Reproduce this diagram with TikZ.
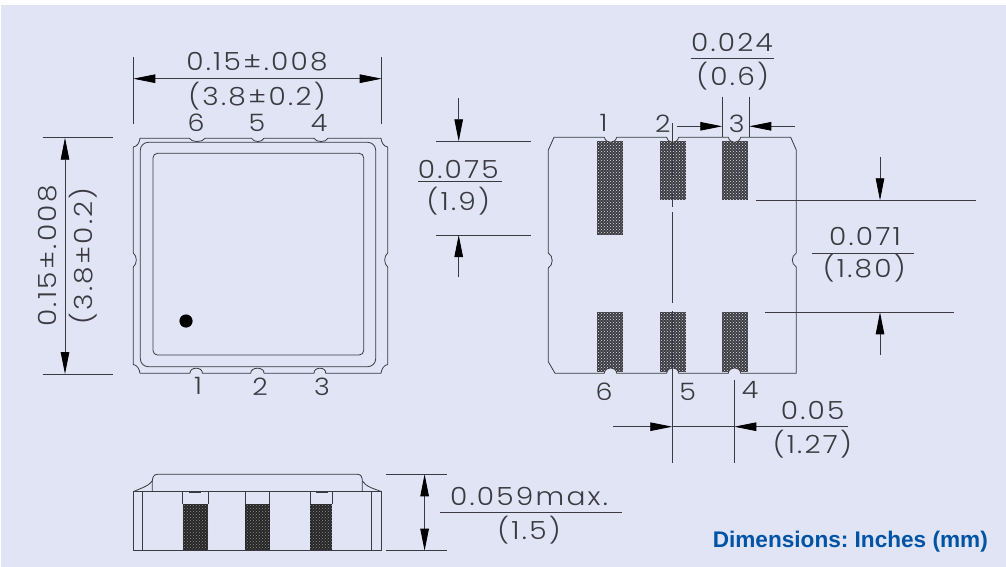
\documentclass[tikz,border=0pt]{standalone}
\usepackage{fontspec}
\usetikzlibrary{arrows.meta,patterns}
\setmainfont{Liberation Sans}
\newfontfamily\cadfont[LetterSpace=9,FakeStretch=1.12]{Poppins Light}
\definecolor{bgc}{RGB}{224,228,244}
\definecolor{inkc}{RGB}{58,58,64}
\definecolor{bluec}{RGB}{0,84,166}
\definecolor{padc}{RGB}{60,60,64}
\tikzset{
  dimtxt/.style={font=\cadfont\fontsize{25}{25}\selectfont,text=inkc,inner sep=0pt,anchor=center},
  pintxt/.style={font=\cadfont\fontsize{24}{24}\selectfont,text=inkc,inner sep=0pt,anchor=center},
  part/.style={draw=inkc,line width=0.8pt,line join=round},
  thin line/.style={draw=inkc,line width=0.8pt},
  dimarrow/.style={draw=inkc,line width=0.8pt,-{Triangle[length=22pt,width=8.5pt,color=black]}},
  padbox/.style={fill=padc,postaction={pattern=crosshatch dots,pattern color=bgc}},
  sidepad/.style={fill=black!85,postaction={pattern=crosshatch dots,pattern color=black!45}},
}
\begin{document}
\begin{tikzpicture}[x=1pt,y=-1pt]
\useasboundingbox (0,0) rectangle (1006,567);
\fill[white] (0,0) rectangle (1006,567);
\fill[bgc] (1,5) rectangle (1006,567);

% ---------- top view
\draw[part] (140,138.3)
  -- (189.3,138.3) .. controls (191.5,142.6) and (202.8,142.6) .. (205,138.3)
  -- (251.7,138.3) .. controls (253.5,142.6) and (262.2,142.6) .. (264,138.3)
  -- (314,138.3) .. controls (316,142.6) and (326,142.6) .. (328,138.3)
  -- (381,138.3) .. controls (381.5,143) and (384,146.5) .. (387.7,147)
  -- (387.7,253) .. controls (383.7,256) and (383.7,264) .. (387.7,267)
  -- (387.7,364.5) .. controls (384,365) and (381.5,369) .. (381,373.3)
  -- (325.7,373.3) .. controls (326.5,366.5) and (313.5,366.5) .. (314,373.3)
  -- (264,373.3) .. controls (264.5,366.5) and (250.5,366.5) .. (250.7,373.3)
  -- (202.3,373.3) .. controls (203,366.5) and (189.5,366.5) .. (190,373.3)
  -- (140,373.3) .. controls (139.5,369) and (137,365) .. (133.3,364.5)
  -- (133.3,267) .. controls (137.3,264) and (137.3,256) .. (133.3,253)
  -- (133.3,147) .. controls (137,146.5) and (139.5,143) .. (140,138.3) -- cycle;
\draw[part,rounded corners=8pt] (140.3,142.3) rectangle (375.7,366.7);
\draw[part,rounded corners=4.5pt] (153,153.3) rectangle (363.7,355);
\fill[black] (186,321) circle (6.6);

\node[pintxt] (p6a) at (196,123) {6};
\node[pintxt] (p5a) at (257,123) {5};
\node[pintxt] (p4a) at (319,123) {4};
\node[pintxt] (p1a) at (198,386) {1};
\node[pintxt] (p2a) at (260,387) {2};
\node[pintxt] (p3a) at (322,387) {3};

% width dimension
\draw[thin line] (133.3,57) -- (133.3,124);
\draw[thin line] (381.7,57) -- (381.7,124);
\draw[dimarrow] (257,78.7) -- (133.3,78.7);
\draw[dimarrow] (257,78.7) -- (381.7,78.7);
\node[dimtxt] (wa) at (257,62) {0.15±.008};
\node[dimtxt] (wb) at (257,96) {(3.8±0.2)};

% height dimension
\draw[thin line] (42.7,137.7) -- (113,137.7);
\draw[thin line] (42.7,374) -- (113,374);
\draw[dimarrow] (65,256) -- (65,137.7);
\draw[dimarrow] (65,256) -- (65,374);
\node[dimtxt,rotate=90] (ha) at (48,256) {0.15±.008};
\node[dimtxt,rotate=90] (hb) at (83,256) {(3.8±0.2)};

% ---------- bottom view
\foreach \xa/\xb in {597.3/622.7,660.3/686,722/747.7}{
  \path[padbox] (\xa,312.3) rectangle (\xb,371.7);
}
\foreach \xa/\xb in {660.3/686,722/747.7}{
  \path[padbox] (\xa,141) rectangle (\xb,200.3);
}
\path[padbox] (597.3,141) rectangle (622.7,235);
% notches clear the pads
\fill[bgc] (604.3,137.3) .. controls (606,144) and (615,144) .. (616.7,137.3) -- cycle;
\fill[bgc] (666.7,137.3) .. controls (668.4,144) and (677,144) .. (678.7,137.3) -- cycle;
\fill[bgc] (728.3,137.3) .. controls (730,144) and (739,144) .. (740.7,137.3) -- cycle;
\fill[bgc] (604.3,373.3) .. controls (605,366) and (616,366) .. (616.7,373.3) -- cycle;
\fill[bgc] (666.7,373.3) .. controls (667.4,366) and (678,366) .. (678.7,373.3) -- cycle;
\fill[bgc] (728.3,373.3) .. controls (729,366) and (740,366) .. (740.7,373.3) -- cycle;
\draw[part] (554,137.3)
  -- (604.3,137.3) .. controls (606,144) and (615,144) .. (616.7,137.3)
  -- (666.7,137.3) .. controls (668.4,144) and (677,144) .. (678.7,137.3)
  -- (728.3,137.3) .. controls (730,144) and (739,144) .. (740.7,137.3)
  -- (790.7,137.3) -- (796.3,150)
  -- (796.3,253) .. controls (791,256) and (791,264) .. (796.3,267)
  -- (796.3,373.3)
  -- (740.7,373.3) .. controls (740,366) and (729,366) .. (728.3,373.3)
  -- (678.7,373.3) .. controls (678,366) and (667.4,366) .. (666.7,373.3)
  -- (616.7,373.3) .. controls (616,366) and (605,366) .. (604.3,373.3)
  -- (555,373.3) -- (548.3,361.7)
  -- (548.3,268) .. controls (553.5,265) and (553.5,256) .. (548.3,253)
  -- (548.3,150) -- cycle;

\node[pintxt] (p1b) at (603.5,123.3) {1};
\node[pintxt] (p2b) at (662.7,123.3) {2};
\node[pintxt] (p3b) at (736.7,123.3) {3};
\node[pintxt] (p6b) at (604,391.7) {6};
\node[pintxt] (p5b) at (687.7,391.7) {5};
\node[pintxt] (p4b) at (750,390) {4};

% centre line and extension lines
\draw[thin line] (672.3,123.3) -- (672.3,177) (672.3,193) -- (672.3,207)
  (672.3,212) -- (672.3,303) (672.3,311) -- (672.3,463);
\draw[thin line] (734.3,380) -- (734.3,463);

% 0.024
\draw[thin line] (722.3,96.7) -- (722.3,136.7);
\draw[thin line] (749.3,96.7) -- (749.3,136.7);
\draw[dimarrow] (677.3,126.3) -- (722.3,126.3);
\draw[dimarrow] (794.7,126.3) -- (749.3,126.3);
\draw[thin line] (690.7,58) -- (774.3,58);
\node[dimtxt] (ca) at (732,42.7) {0.024};
\node[dimtxt] (cb) at (732.7,76) {(0.6)};

% 0.075
\draw[thin line] (436,141.3) -- (531,141.3);
\draw[thin line] (436,235) -- (531,235);
\draw[dimarrow] (458.7,98.3) -- (458.7,141.3);
\draw[dimarrow] (458.7,277.3) -- (458.7,235);
\draw[thin line] (418,181.7) -- (501.7,181.7);
\node[dimtxt] (da) at (458.3,169.3) {0.075};
\node[dimtxt] (db) at (458.3,201) {(1.9)};

% 0.071
\draw[thin line] (756,200.3) -- (975.7,200.3);
\draw[thin line] (765.3,312.3) -- (954,312.3);
\draw[dimarrow] (880,156.7) -- (880,200.3);
\draw[dimarrow] (880,355) -- (880,312.3);
\draw[thin line] (811.7,253.3) -- (914,253.3);
\node[dimtxt] (ea) at (865,236.7) {0.071};
\node[dimtxt] (eb) at (864.3,268.3) {(1.80)};

% 0.05
\draw[thin line] (672.3,426.7) -- (734.3,426.7);
\draw[dimarrow] (613.3,426.7) -- (672.3,426.7);
\draw[dimarrow] (848.3,426.7) -- (734.3,426.7);
\node[dimtxt] (fa) at (812.7,410.7) {0.05};
\node[dimtxt] (fb) at (812.3,444) {(1.27)};

% ---------- side view
\foreach \xa/\xb in {182.7/208,245.3/269.7,310/332}{
  \path[sidepad] (\xa,504) rectangle (\xb,550.7);
  \draw[part] (\xa,504) -- (\xa,491.7) (\xb,504) -- (\xb,491.7);
}
\draw[part] (133.3,491.7) rectangle (381.7,550.7);
\draw[part] (142.3,491.7) -- (142.3,550.7) (371.7,491.7) -- (371.7,550.7);
\draw[part] (152.3,491.7) -- (152.3,481) .. controls (152.5,477) and (154,474.3) .. (157.5,474.3)
  -- (357.5,474.3) .. controls (361,474.3) and (362.3,477) .. (362.3,481) -- (362.3,491.7);
\draw[part] (133.3,491.7) .. controls (140,488.5) and (149,486) .. (152.3,481);
\draw[part] (362.3,481) .. controls (366,487) and (375,489) .. (381.7,491.7);
\draw[inkc,line width=1.6pt] (189,491.7) -- (201,491.7) (316,491.7) -- (328,491.7);

% 0.059
\draw[thin line] (386,474.3) -- (447,474.3);
\draw[thin line] (386,550.7) -- (447,550.7);
\draw[dimarrow] (424.6,512) -- (424.6,474.3);
\draw[dimarrow] (424.6,512) -- (424.6,550.7);
\draw[thin line] (440,512.3) -- (622,512.3);
\node[dimtxt] (ga) at (529,496.7) {0.059max.};
\node[dimtxt] (gb) at (529,530) {(1.5)};

\node[font=\bfseries\fontsize{22.6}{22.6}\selectfont\frenchspacing,text=bluec,inner sep=0pt,anchor=east] (note) at (988,541.5) {Dimensions: Inches (mm)};
\end{tikzpicture}
\end{document}
